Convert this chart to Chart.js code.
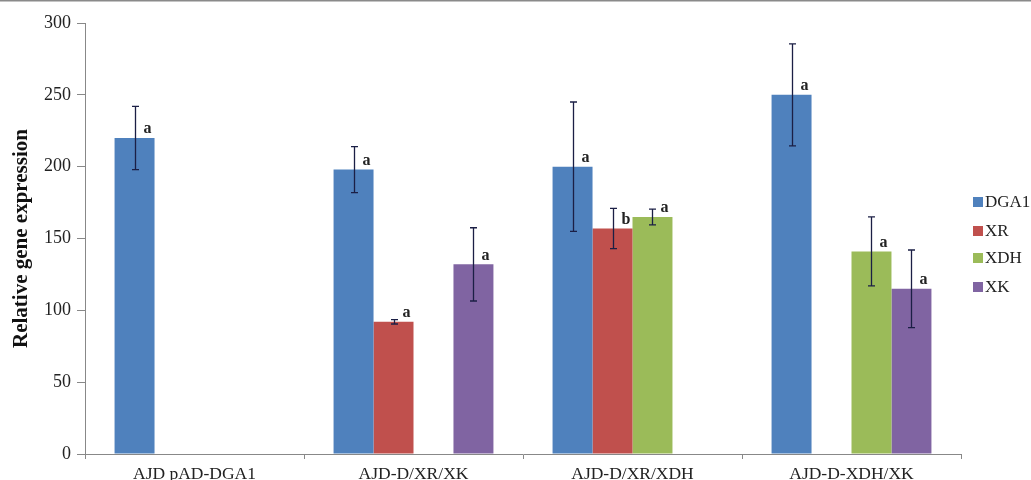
<!DOCTYPE html>
<html>
<head>
<meta charset="utf-8">
<script src="https://cdn.jsdelivr.net/npm/chart.js@4/dist/chart.umd.min.js"></script>
<style>
  html, body { margin: 0; padding: 0; background: #fff; }
  #wrap { width: 1031px; height: 480px; position: relative; }
</style>
</head>
<body>
<div id="wrap"><canvas id="chart"></canvas></div>
<script>
const categories = ['AJD pAD-DGA1', 'AJD-D/XR/XK', 'AJD-D/XR/XDH', 'AJD-D-XDH/XK']
const seriesNames = ['DGA1', 'XR', 'XDH', 'XK']
const colors = ['#4f81bd', '#c0504d', '#9bbb59', '#8064a2']

// mean values per series (null = not measured)
const dga1 = [220, 198, 200, 250]
const xr = [null, 92, 157, null]
const xdh = [null, null, 165, 141]
const xk = [null, 132, null, 115]

// error bar half widths
const dga1Err = [22, 16, 45, 35.5]
const xrErr = [null, 1.5, 14, null]
const xdhErr = [null, null, 5.5, 24]
const xkErr = [null, 25.5, null, 27]

// significance letters
const dga1Sig = ['a', 'a', 'a', 'a']
const xrSig = [null, 'a', 'b', null]
const xdhSig = [null, null, 'a', 'a']
const xkSig = [null, 'a', null, 'a']

const yTicks = [0, 50, 100, 150, 200, 250, 300]

const values = [dga1, xr, xdh, xk]
const errors = [dga1Err, xrErr, xdhErr, xkErr]
const letters = [dga1Sig, xrSig, xdhSig, xkSig]

const serif = '"Liberation Serif", "DejaVu Serif", serif'

/* error bars + letters */
const errorBarPlugin = {
  id: 'errorBars',
  afterDatasetsDraw(chart) {
    const { ctx, scales: { y } } = chart
    ctx.save()
    chart.data.datasets.forEach((ds, di) => {
      const meta = chart.getDatasetMeta(di)
      meta.data.forEach((bar, i) => {
        const v = values[di][i]
        if (v == null) return
        const e = errors[di][i]
        const x = Math.round(bar.x) + 0.5
        const yTop = y.getPixelForValue(v + e)
        const yBot = y.getPixelForValue(v - e)
        ctx.strokeStyle = '#1b1f45'
        ctx.lineWidth = 1.3
        ctx.beginPath()
        ctx.moveTo(x, yTop); ctx.lineTo(x, yBot)
        ctx.moveTo(x - 3.5, yTop); ctx.lineTo(x + 3.5, yTop)
        ctx.moveTo(x - 3.5, yBot); ctx.lineTo(x + 3.5, yBot)
        ctx.stroke()

        const letter = letters[di][i]
        if (letter) {
          ctx.fillStyle = '#222'
          ctx.font = 'bold 16px ' + serif
          ctx.textAlign = 'left'
          ctx.textBaseline = 'bottom'
          ctx.fillText(letter, x + 8, y.getPixelForValue(v) - 1)
        }
      })
    })
    ctx.restore()
  }
}

/* legend on the right, plus the thin frame line at the top */
const sideLegend = {
  id: 'sideLegend',
  afterDraw(chart) {
    const { ctx } = chart
    const x0 = 973
    const rows = [202, 231, 258, 287]
    ctx.save()
    ctx.font = '17px ' + serif
    ctx.textBaseline = 'middle'
    ctx.textAlign = 'left'
    chart.data.datasets.forEach((ds, i) => {
      ctx.fillStyle = ds.backgroundColor
      ctx.fillRect(x0, rows[i] - 5, 10, 10)
      ctx.fillStyle = '#222'
      ctx.fillText(ds.label, x0 + 12, rows[i] + 1)
    })
    ctx.strokeStyle = '#8a8a8a'
    ctx.lineWidth = 1.5
    ctx.beginPath()
    ctx.moveTo(0, 0.75); ctx.lineTo(chart.width, 0.75)
    ctx.stroke()
    ctx.restore()
  }
}

new Chart(document.getElementById('chart'), {
  type: 'bar',
  data: {
    labels: categories,
    datasets: seriesNames.map((name, i) => ({
      label: name,
      data: values[i],
      backgroundColor: colors[i],
      borderWidth: 0,
      barPercentage: 1,
      categoryPercentage: 0.73
    }))
  },
  options: {
    responsive: true,
    maintainAspectRatio: false,
    animation: false,
    layout: { padding: { top: 23, right: 70, bottom: 0, left: 5 } },
    plugins: {
      legend: { display: false },
      tooltip: { enabled: false }
    },
    scales: {
      x: {
        grid: { display: true, drawOnChartArea: false, drawTicks: true, tickLength: 5, color: '#888', offset: true },
        border: { color: '#888', width: 1 },
        ticks: { color: '#222', font: { family: serif, size: 17.5 }, padding: 5, maxRotation: 0 },
        afterFit: (s) => { s.height = 26 }
      },
      y: {
        min: 0,
        max: 300,
        afterBuildTicks: (s) => { s.ticks = yTicks.map((v) => ({ value: v })) },
        grid: { display: true, drawOnChartArea: false, drawTicks: true, tickLength: 8, color: '#888' },
        border: { color: '#888', width: 1 },
        ticks: { color: '#222', font: { family: serif, size: 18 }, padding: 6 },
        title: {
          display: true,
          text: 'Relative gene expression',
          color: '#111',
          font: { family: serif, size: 21, weight: 'bold' },
          padding: { top: 4, bottom: 0 }
        },
        afterFit: (s) => { s.width = 80 }
      }
    }
  },
  plugins: [errorBarPlugin, sideLegend]
})
</script>
</body>
</html>
